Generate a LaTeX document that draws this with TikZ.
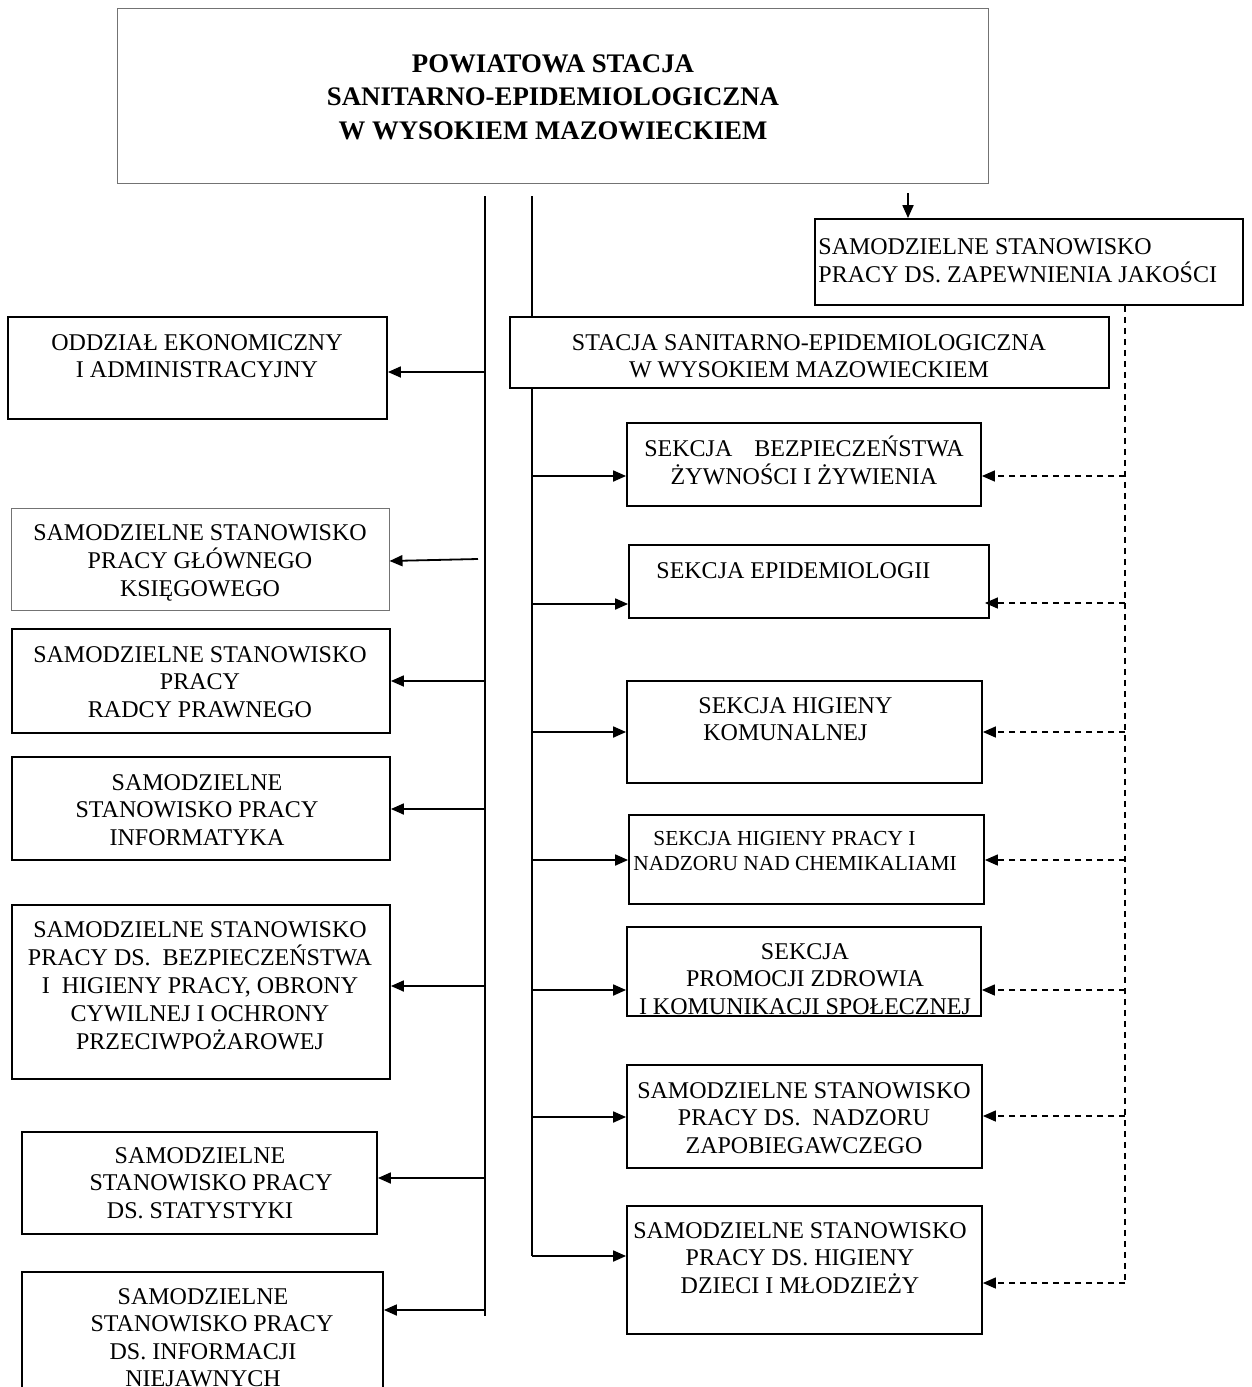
\documentclass[tikz,border=0pt]{standalone}
\usepackage{fontspec}
\setmainfont{Liberation Serif}
\usepackage{graphicx}
\usetikzlibrary{arrows.meta,fit}
\tikzset{
  bx/.style={draw, line width=0.9pt, inner sep=0pt},
  gbx/.style={draw=black!55, line width=0.5pt, inner sep=0pt},
  tx/.style={inner sep=0pt, anchor=base, font=\fontsize{12}{13.8}\selectfont},
  txl/.style={tx, anchor=base west},
  arr/.style={line width=0.9pt, -{Triangle[length=6.5pt,width=5.5pt]}},
  darr/.style={line width=0.7pt, dash pattern=on 3pt off 2.5pt, -{Triangle[length=6.5pt,width=5.5pt]}},
  trunk/.style={line width=0.9pt},
  dtrunk/.style={line width=0.7pt, dash pattern=on 3pt off 2.5pt},
}
\newcommand\lnc[1]{\begin{tabular}[t]{@{}c@{}}#1\end{tabular}}
\newcommand\lnl[1]{\begin{tabular}[t]{@{}l@{}}#1\end{tabular}}
\begin{document}
\begin{tikzpicture}[x=0.5pt,y=-0.5pt]
\useasboundingbox (0,0) rectangle (1252,1387);
\clip (0,0) rectangle (1252,1387);

% ---------- boxes ----------
\node[gbx, fit={(117,8) (988,183)}] (top) {};
\node[bx, fit={(815,219) (1243,305)}] (qual) {};
\node[bx, fit={(510,317) (1109,388)}] (stacja) {};

\node[bx, fit={(8,317) (387,419)}] (odz) {};
\node[gbx, fit={(11,508) (389,610)}] (glow) {};
\node[bx, fit={(12,629) (390,733)}] (radcy) {};
\node[bx, fit={(12,757) (390,860)}] (inf) {};
\node[bx, fit={(12,905) (390,1079)}] (bhp) {};
\node[bx, fit={(22,1132) (377,1234)}] (stat) {};
\node[bx, fit={(22,1272) (383,1420)}] (niej) {};

\node[bx, fit={(627,423) (981,506)}] (bezp) {};
\node[bx, fit={(629,545) (989,618)}] (epid) {};
\node[bx, fit={(627,681) (982,783)}] (kom) {};
\node[bx, fit={(629,815) (984,904)}] (chem) {};
\node[bx, fit={(627,927) (981,1016)}] (prom) {};
\node[bx, fit={(627,1065) (982,1168)}] (nadz) {};
\node[bx, fit={(627,1206) (982,1334)}] (dzieci) {};

% ---------- texts ----------
\node[tx, font=\bfseries\fontsize{13.4}{16.75}\selectfont] (top-t) at (553,72)
  {\lnc{POWIATOWA STACJA\\SANITARNO-EPIDEMIOLOGICZNA\\W WYSOKIEM MAZOWIECKIEM}};
\node[txl, font=\fontsize{12}{13.5}\selectfont] (qual-t) at (818,254)
  {\lnl{SAMODZIELNE STANOWISKO\\PRACY DS. ZAPEWNIENIA JAKOŚCI}};
\node[tx] (stacja-t) at (809,350)
  {\lnc{STACJA SANITARNO-EPIDEMIOLOGICZNA\\W WYSOKIEM MAZOWIECKIEM}};

\node[tx] (odz-t) at (197,350) {\lnc{ODDZIAŁ EKONOMICZNY\\I ADMINISTRACYJNY}};
\node[tx] (glow-t) at (200,540) {\lnc{SAMODZIELNE STANOWISKO\\PRACY GŁÓWNEGO\\KSIĘGOWEGO}};
\node[tx] (radcy-t) at (200,662) {\lnc{SAMODZIELNE STANOWISKO\\PRACY\\RADCY PRAWNEGO}};
\node[tx] (inf-t) at (197,790) {\lnc{SAMODZIELNE\\STANOWISKO PRACY\\INFORMATYKA}};
\node[tx] (bhp-t) at (200,937) {\lnc{SAMODZIELNE STANOWISKO\\PRACY DS.\ \ BEZPIECZEŃSTWA\\I\ \ HIGIENY PRACY, OBRONY\\CYWILNEJ I OCHRONY\\PRZECIWPOŻAROWEJ}};
\node[tx] (stat-t) at (200,1163) {\lnc{SAMODZIELNE\\\hspace*{11pt}STANOWISKO PRACY\\DS. STATYSTYKI}};
\node[tx] (niej-t) at (203,1304) {\lnc{SAMODZIELNE\\\hspace*{9pt}STANOWISKO PRACY\\DS. INFORMACJI\\NIEJAWNYCH}};

\node[tx] (bezp-t) at (804,456) {\lnc{SEKCJA\hspace{11pt}BEZPIECZEŃSTWA\\ŻYWNOŚCI I ŻYWIENIA}};
\node[txl] (epid-t) at (656,578) {SEKCJA EPIDEMIOLOGII};
\node[txl] (kom-t) at (698,713) {\lnl{SEKCJA HIGIENY\\\hspace*{2.5pt}KOMUNALNEJ}};
\node[txl, font=\fontsize{10.7}{12.8}\selectfont] (chem-t) at (633,845)
  {\lnl{\hspace*{10pt}SEKCJA HIGIENY PRACY I\\NADZORU NAD CHEMIKALIAMI}};
\node[tx] (prom-t) at (805,959) {\lnc{SEKCJA\\PROMOCJI ZDROWIA\\I KOMUNIKACJI SPOŁECZNEJ}};
\node[tx] (nadz-t) at (804,1098) {\lnc{SAMODZIELNE STANOWISKO\\PRACY DS.\ \ NADZORU\\ZAPOBIEGAWCZEGO}};
\node[tx] (dzieci-t) at (800,1238) {\lnc{SAMODZIELNE STANOWISKO\\PRACY DS. HIGIENY\\DZIECI I MŁODZIEŻY}};

% ---------- trunk coordinates ----------
\coordinate (L0) at (485,196);
\coordinate (L1) at (485,1316);
\coordinate (R0) at (532,196);
\coordinate (R1) at (532,1256);
\coordinate (Q0) at (908,193);
\coordinate (G0) at (478,559);
\coordinate (D1) at (1125,1283);

\draw[trunk] (L0) -- (L1);
\draw[trunk] (R0) -- (stacja.north -| R0);
\draw[trunk] (stacja.south -| R0) -- (R1);
\draw[dtrunk] (qual.south -| D1) -- (D1);

% ---------- connectors ----------
\draw[arr] (Q0) -- (qual.north -| Q0);

\draw[arr] (L0 |- 0,372) -- (odz.east |- 0,372);
\draw[arr] (G0) -- (glow.east |- 0,561);
\draw[arr] (L0 |- 0,681) -- (radcy.east |- 0,681);
\draw[arr] (L0 |- 0,809) -- (inf.east |- 0,809);
\draw[arr] (L0 |- 0,986) -- (bhp.east |- 0,986);
\draw[arr] (L0 |- 0,1178) -- (stat.east |- 0,1178);
\draw[arr] (L0 |- 0,1310) -- (niej.east |- 0,1310);

\draw[arr] (R0 |- 0,476) -- (bezp.west |- 0,476);
\draw[arr] (R0 |- 0,604) -- (epid.west |- 0,604);
\draw[arr] (R0 |- 0,732) -- (kom.west |- 0,732);
\draw[arr] (R0 |- 0,860) -- (chem.west |- 0,860);
\draw[arr] (R0 |- 0,990) -- (prom.west |- 0,990);
\draw[arr] (R0 |- 0,1117) -- (nadz.west |- 0,1117);
\draw[arr] (R1) -- (dzieci.west |- R1);

\draw[darr] (D1 |- 0,476) -- (bezp.east |- 0,476);
\draw[darr] (D1 |- 0,603) -- ([xshift=-2.5pt]epid.east |- 0,603);
\draw[darr] (D1 |- 0,732) -- (kom.east |- 0,732);
\draw[darr] (D1 |- 0,860) -- (chem.east |- 0,860);
\draw[darr] (D1 |- 0,990) -- (prom.east |- 0,990);
\draw[darr] (D1 |- 0,1116) -- (nadz.east |- 0,1116);
\draw[darr] (D1) -- (dzieci.east |- D1);
\end{tikzpicture}
\end{document}
